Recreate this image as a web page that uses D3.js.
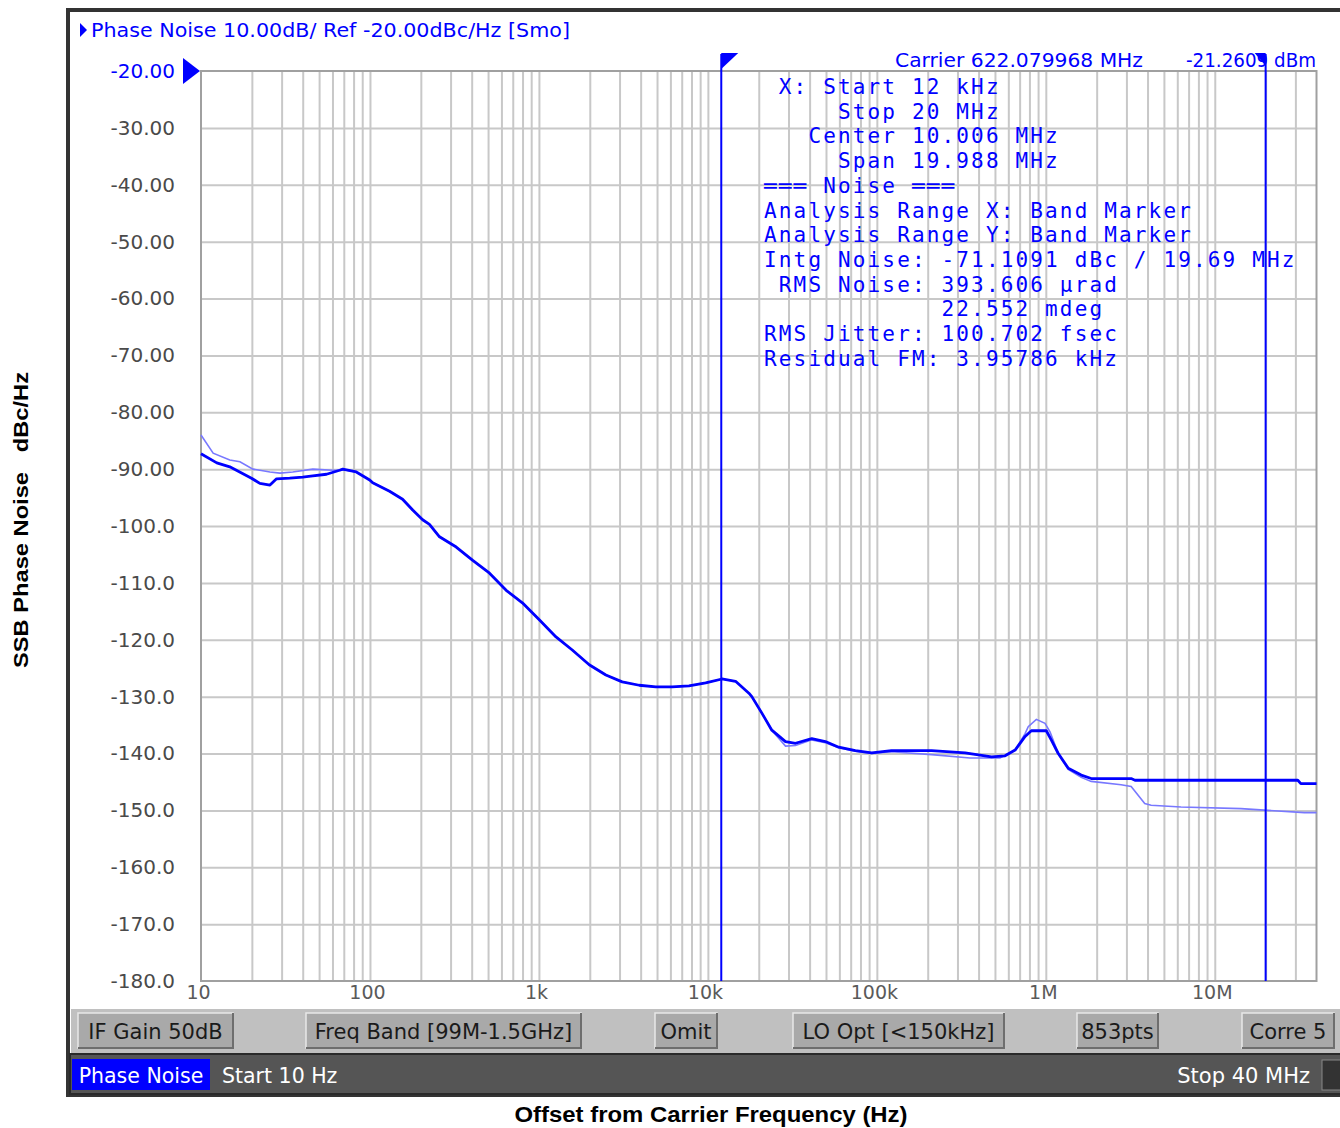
<!DOCTYPE html>
<html>
<head>
<meta charset="utf-8">
<script src="https://cdn.jsdelivr.net/npm/d3@7"></script>
<style>
  body { margin: 0; background: #fff; }
  .ui { font-family: "DejaVu Sans", Verdana, sans-serif; }
  .mono { font-family: "DejaVu Sans Mono", monospace; }
</style>
</head>
<body>
<div class="chart"></div>
<script>
// ---- data read off the screen shot ----
// main (bright) trace: offset frequency in Hz, noise in dBc/Hz
var mainFreq = [10, 12.4, 14.8, 19.9, 22.3, 25.6, 28, 33.5, 40, 45.9, 55.3, 66.2, 69, 83, 99.6,
  103.8, 130.6, 156, 179, 205, 225, 258, 324, 404, 510, 640, 798, 1005, 1262, 1575, 1985,
  2490, 3110, 3920, 4920, 6140, 7730, 9700, 12110, 14580, 17490, 18200, 20870, 23900, 28800,
  33000, 41200, 49600, 59500, 74600, 93200, 122000, 211000, 333000, 477000, 574000, 658000,
  754000, 821000, 1007000, 1077000, 1185000, 1358000, 1620000, 1857000, 3200000, 3370000,
  31000000, 32300000, 40000000];
var mainDb = [-87.3, -88.9, -89.6, -91.6, -92.5, -92.8, -91.7, -91.6, -91.4, -91.2, -90.9, -90.2, -90.0, -90.5, -91.9,
  -92.4, -93.9, -95.3, -97.2, -98.9, -99.7, -101.9, -103.7, -106.0, -108.3, -111.3, -113.5, -116.5, -119.5, -121.8, -124.4,
  -126.2, -127.4, -128.0, -128.3, -128.3, -128.1, -127.6, -126.9, -127.3, -129.4, -130.0, -132.9, -135.9, -137.9,
  -138.2, -137.4, -137.9, -138.9, -139.5, -139.9, -139.5, -139.5, -139.9, -140.6, -140.4, -139.4,
  -137.0, -136.0, -136.0, -137.6, -140.0, -142.6, -143.8, -144.4, -144.4, -144.7,
  -144.7, -145.3, -145.3];

// second (pale) trace
var refFreq = [10, 11.8, 14.8, 17, 20.3, 25.6, 29.3, 34.9, 45.9, 60.2, 72.5, 83, 99.6,
  103.8, 130.6, 156, 179, 205, 225, 258, 324, 404, 510, 640, 798, 1005, 1262, 1575, 1985,
  2490, 3110, 3920, 4920, 6140, 7730, 9700, 12110, 14580, 17490, 18200, 20870, 23900, 28800,
  33000, 41200, 49600, 59500, 74600, 93200, 122000, 211000, 356000, 535000, 658000,
  754000, 787000, 879000, 989000, 1059000, 1185000, 1358000, 1620000, 1857000, 2790000, 3200000,
  3850000, 4200000, 6310000, 14300000, 33900000, 40000000];
var refDb = [-84.0, -87.2, -88.4, -88.7, -90.0, -90.5, -90.7, -90.5, -90.0, -90.2, -90.2, -90.5, -91.9,
  -92.4, -93.9, -95.3, -97.2, -98.9, -99.7, -101.9, -103.7, -106.0, -108.3, -111.3, -113.5, -116.5, -119.5, -121.8, -124.4,
  -126.2, -127.4, -128.0, -128.3, -128.3, -128.1, -127.6, -126.9, -127.3, -129.4, -130.0, -132.9, -135.9, -138.7,
  -138.6, -137.6, -138.1, -139.0, -139.6, -140.0, -139.7, -140.2, -140.8, -140.8, -139.4,
  -136.5, -135.3, -134.0, -134.7, -136.2, -140.0, -142.8, -144.2, -144.9, -145.5, -145.8,
  -148.8, -149.1, -149.4, -149.7, -150.4, -150.4];

var yTicks = [-20, -30, -40, -50, -60, -70, -80, -90, -100, -110, -120, -130, -140, -150, -160, -170, -180];
var yTickLabels = ["-20.00", "-30.00", "-40.00", "-50.00", "-60.00", "-70.00", "-80.00", "-90.00",
  "-100.0", "-110.0", "-120.0", "-130.0", "-140.0", "-150.0", "-160.0", "-170.0", "-180.0"];
var xTicks = [10, 100, 1e3, 1e4, 1e5, 1e6, 1e7];
var xTickLabels = ["10", "100", "1k", "10k", "100k", "1M", "10M"];
var markerFreqs = [12e3, 20e6];

var infoLines = [
  " X: Start 12 kHz",
  "     Stop 20 MHz",
  "   Center 10.006 MHz",
  "     Span 19.988 MHz",
  "\u2550\u2550\u2550 Noise \u2550\u2550\u2550",
  "Analysis Range X: Band Marker",
  "Analysis Range Y: Band Marker",
  "Intg Noise: -71.1091 dBc / 19.69 MHz",
  " RMS Noise: 393.606 \u00b5rad",
  "            22.552 mdeg",
  "RMS Jitter: 100.702 fsec",
  "Residual FM: 3.95786 kHz"
];
var buttonLabels = ["IF Gain 50dB", "Freq Band [99M-1.5GHz]", "Omit", "LO Opt [<150kHz]", "853pts", "Corre 5"];

// ---- layout ----
var svgWidth = 1340;
var svgHeight = 1128;
var plot = { left: 201, right: 1316.5, top: 71, bottom: 981 };
var blue = "#0000ff";

var svg = d3.select(".chart")
  .append("svg")
  .attr("width", svgWidth)
  .attr("height", svgHeight);

var xScale = d3.scaleLog().domain([10, 4e7]).range([plot.left, plot.right]);
var yScale = d3.scaleLinear().domain([-180, -20]).range([plot.bottom, plot.top]);

// instrument frame
svg.append("rect")
  .attr("x", 68).attr("y", 10)
  .attr("width", 1300).attr("height", 1085)
  .attr("fill", "#fff")
  .attr("stroke", "#333").attr("stroke-width", 4);

// grid lines
var gridX = [];
for (var k = 1; k <= 7; k++) {
  for (var m = 1; m <= 9; m++) {
    var f = m * Math.pow(10, k);
    if (f > 10 && f < 4e7) gridX.push(f);
  }
}
svg.append("g")
  .attr("transform", `translate(0,${plot.bottom})`)
  .call(d3.axisBottom(xScale).tickValues(gridX).tickSize(-(plot.bottom - plot.top)).tickFormat(""))
  .call(g => g.select(".domain").remove())
  .call(g => g.selectAll("line").attr("stroke", "#c8c8c8").attr("stroke-width", 2));

svg.append("g")
  .attr("transform", `translate(${plot.left},0)`)
  .call(d3.axisLeft(yScale).tickValues(yTicks.slice(1, -1)).tickSize(-(plot.right - plot.left)).tickFormat(""))
  .call(g => g.select(".domain").remove())
  .call(g => g.selectAll("line").attr("stroke", "#c8c8c8").attr("stroke-width", 2));

svg.append("rect")
  .attr("x", plot.left).attr("y", plot.top)
  .attr("width", plot.right - plot.left).attr("height", plot.bottom - plot.top)
  .attr("fill", "none").attr("stroke", "#a0a0a0").attr("stroke-width", 2);

// tick labels
svg.append("g")
  .attr("transform", `translate(${plot.left - 26},0)`)
  .call(d3.axisLeft(yScale).tickValues(yTicks).tickSize(0).tickPadding(0)
    .tickFormat((d, i) => yTickLabels[i]))
  .call(g => g.select(".domain").remove())
  .call(g => g.selectAll("text")
    .attr("class", "ui")
    .style("font-size", "20px")
    .attr("fill", (d, i) => i === 0 ? blue : "#4a4a4a"));

svg.append("g")
  .attr("transform", `translate(-3,${plot.bottom})`)
  .call(d3.axisBottom(xScale).tickValues(xTicks).tickSize(0).tickPadding(4)
    .tickFormat((d, i) => xTickLabels[i]))
  .call(g => g.select(".domain").remove())
  .call(g => g.selectAll("text")
    .attr("class", "ui")
    .style("font-size", "19px")
    .attr("fill", "#5a5a5a"));

// reference level marker
svg.append("path")
  .attr("d", `M${plot.left - 18},${yScale(-20) - 13} L${plot.left - 1},${yScale(-20)} L${plot.left - 18},${yScale(-20) + 13} Z`)
  .attr("fill", blue);

// traces
var line = d3.line()
  .x(d => xScale(d[0]))
  .y(d => yScale(d[1]));

svg.append("path")
  .datum(d3.zip(refFreq, refDb))
  .attr("d", line)
  .attr("fill", "none")
  .attr("stroke", "#7878ff")
  .attr("stroke-width", 1.6);

svg.append("path")
  .datum(d3.zip(mainFreq, mainDb))
  .attr("d", line)
  .attr("fill", "none")
  .attr("stroke", blue)
  .attr("stroke-width", 2.8)
  .attr("stroke-linejoin", "round");

// band markers
markerFreqs.forEach(function(f) {
  var mx = xScale(f);
  svg.append("line")
    .attr("x1", mx).attr("x2", mx)
    .attr("y1", 54).attr("y2", plot.bottom)
    .attr("stroke", blue).attr("stroke-width", 2);
});

// header texts
svg.append("path")
  .attr("d", "M80,23 L87,30 L80,37 Z")
  .attr("fill", blue);
svg.append("text")
  .attr("class", "ui")
  .attr("x", 91).attr("y", 37)
  .attr("textLength", 479)
  .attr("lengthAdjust", "spacingAndGlyphs")
  .style("font-size", "20px")
  .attr("fill", blue)
  .text("Phase Noise 10.00dB/ Ref -20.00dBc/Hz [Smo]");

svg.append("text")
  .attr("class", "ui")
  .attr("x", 895).attr("y", 67)
  .attr("textLength", 248)
  .attr("lengthAdjust", "spacingAndGlyphs")
  .style("font-size", "20px")
  .attr("fill", blue)
  .text("Carrier 622.079968 MHz");

svg.append("text")
  .attr("class", "ui")
  .attr("x", 1186).attr("y", 67)
  .attr("textLength", 130)
  .attr("lengthAdjust", "spacingAndGlyphs")
  .style("font-size", "20px")
  .attr("fill", blue)
  .text("-21.2609 dBm");

// marker flags
var m1 = xScale(markerFreqs[0]);
svg.append("path")
  .attr("d", `M${m1},53 L${m1 + 17},53 L${m1},69 Z`)
  .attr("fill", blue);
var m2 = xScale(markerFreqs[1]);
svg.append("path")
  .attr("d", `M${m2},53 L${m2 - 11},53 L${m2},66 Z`)
  .attr("fill", blue);

// noise analysis readout
svg.append("g")
  .selectAll("text")
  .data(infoLines)
  .enter()
  .append("text")
  .attr("class", "mono")
  .attr("x", 764)
  .attr("y", (d, i) => 94 + i * 24.72)
  .attr("xml:space", "preserve")
  .style("white-space", "pre")
  .style("font-size", "21px")
  .style("letter-spacing", "2.15px")
  .attr("fill", blue)
  .text(d => d);

// soft key bar
svg.append("rect")
  .attr("x", 71).attr("y", 1009)
  .attr("width", 1280).attr("height", 45)
  .attr("fill", "#c0c0c0");

var buttonBoxes = [[78, 155], [306, 275], [655, 62], [793, 211], [1077, 81], [1242, 92]];
buttonBoxes.forEach(function(b, i) {
  var g = svg.append("g");
  g.append("rect")
    .attr("x", b[0]).attr("y", 1013)
    .attr("width", b[1]).attr("height", 35)
    .attr("fill", "#a9a9a9")
    .attr("stroke", "#e8e8e8").attr("stroke-width", 1.5);
  g.append("path")
    .attr("d", `M${b[0]},${1048} L${b[0] + b[1]},${1048} L${b[0] + b[1]},1013`)
    .attr("fill", "none")
    .attr("stroke", "#6e6e6e").attr("stroke-width", 2);
  g.append("text")
    .attr("class", "ui")
    .attr("x", b[0] + b[1] / 2).attr("y", 1039)
    .attr("text-anchor", "middle")
    .style("font-size", "21px")
    .attr("fill", "#1a1a1a")
    .text(buttonLabels[i]);
});

// status bar
svg.append("rect")
  .attr("x", 70).attr("y", 1054)
  .attr("width", 1280).attr("height", 40)
  .attr("fill", "#555")
  .attr("stroke", "#2a2a2a").attr("stroke-width", 2);
svg.append("rect")
  .attr("x", 72).attr("y", 1059)
  .attr("width", 138).attr("height", 31)
  .attr("fill", blue);
svg.append("text")
  .attr("class", "ui")
  .attr("x", 141).attr("y", 1083)
  .attr("text-anchor", "middle")
  .style("font-size", "20.5px")
  .attr("fill", "#fff")
  .text("Phase Noise");
svg.append("text")
  .attr("class", "ui")
  .attr("x", 222).attr("y", 1083)
  .style("font-size", "20.5px")
  .attr("fill", "#fff")
  .text("Start 10 Hz");
svg.append("text")
  .attr("class", "ui")
  .attr("x", 1310).attr("y", 1083)
  .attr("text-anchor", "end")
  .style("font-size", "21px")
  .attr("fill", "#fff")
  .text("Stop 40 MHz");
svg.append("rect")
  .attr("x", 1322).attr("y", 1060)
  .attr("width", 24).attr("height", 30)
  .attr("fill", "#333")
  .attr("stroke", "#888").attr("stroke-width", 1);

// axis titles
svg.append("text")
  .attr("transform", "translate(28,520) rotate(-90)")
  .attr("text-anchor", "middle")
  .attr("xml:space", "preserve")
  .attr("textLength", 296)
  .attr("lengthAdjust", "spacingAndGlyphs")
  .style("white-space", "pre")
  .style("font-family", "'Liberation Sans', Arial, sans-serif")
  .style("font-weight", "bold")
  .style("font-size", "21px")
  .text("SSB Phase Noise   dBc/Hz");

svg.append("text")
  .attr("x", 711).attr("y", 1122)
  .attr("text-anchor", "middle")
  .attr("textLength", 393)
  .attr("lengthAdjust", "spacingAndGlyphs")
  .style("font-family", "'Liberation Sans', Arial, sans-serif")
  .style("font-weight", "bold")
  .style("font-size", "22px")
  .text("Offset from Carrier Frequency (Hz)");
</script>
</body>
</html>
